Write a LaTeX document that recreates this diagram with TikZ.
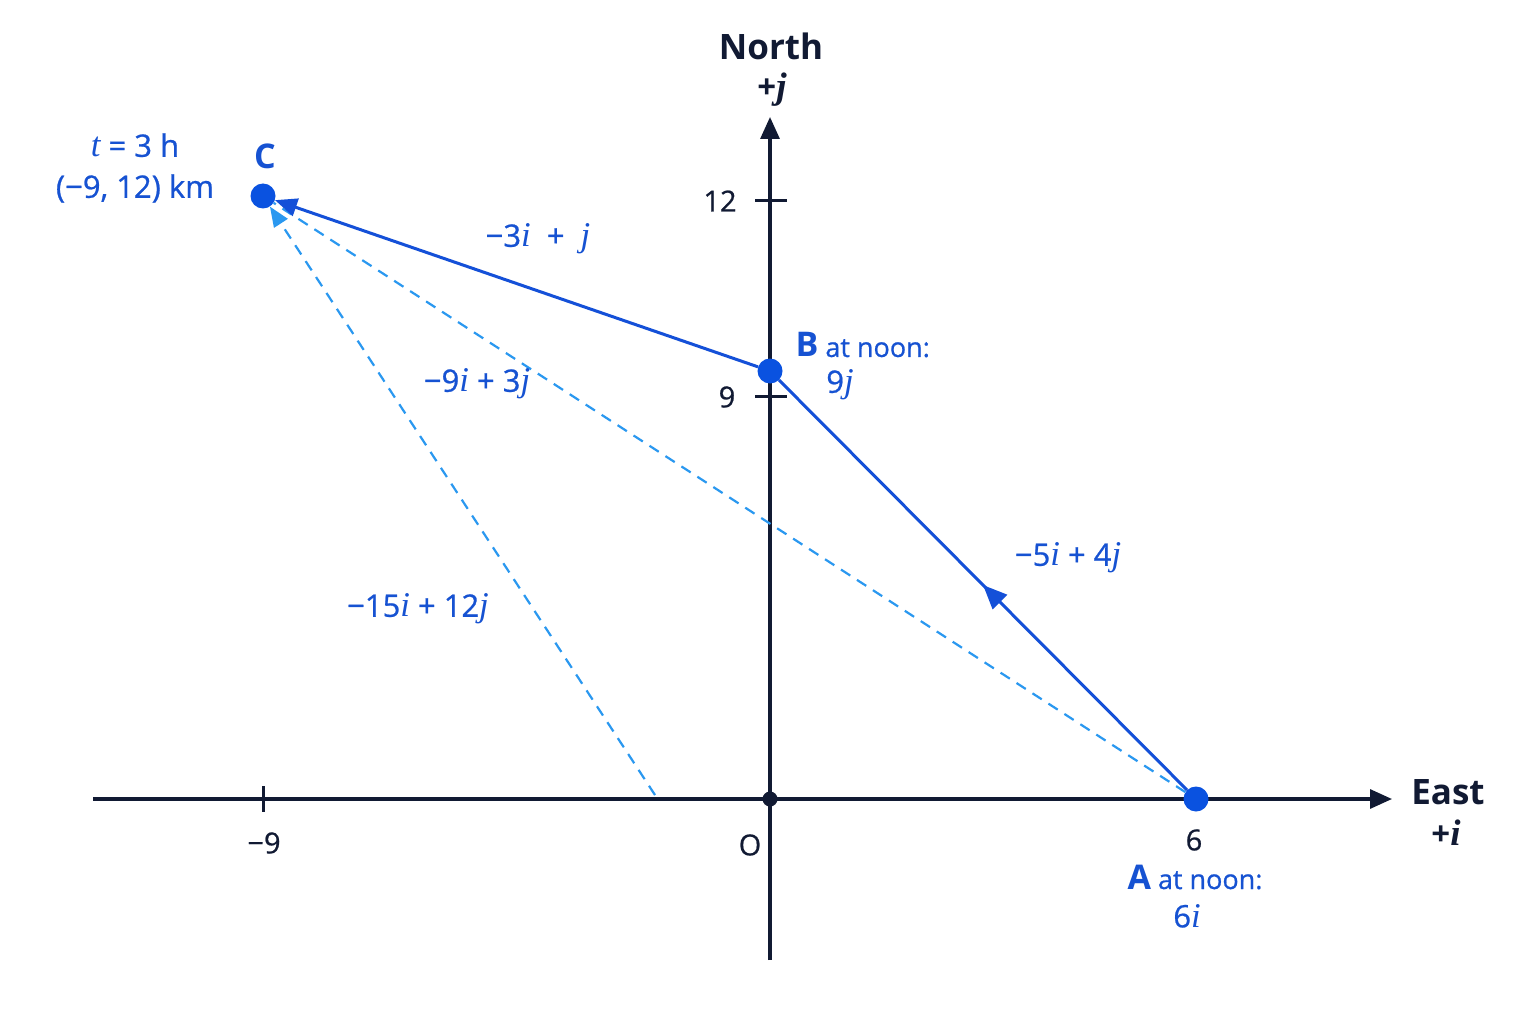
\documentclass[tikz,border=0pt]{standalone}
\usepackage{fontspec}
\setmainfont{Open Sans}
\newfontfamily\medfont{Open Sans}[FakeBold=0.7]
\newfontfamily\vecfont{Liberation Serif}
\newcommand\myi{{\vecfont\itshape\fontsize{1.12em}{1em}\selectfont i}}
\newcommand\myj{{\vecfont\itshape\fontsize{1.12em}{1em}\selectfont j}}
\newcommand\myt{{\vecfont\itshape\fontsize{1.12em}{1em}\selectfont t}}
\newcommand\myib{{\vecfont\bfseries\itshape\fontsize{1.12em}{1em}\selectfont i}}
\newcommand\myjb{{\vecfont\bfseries\itshape\fontsize{1.12em}{1em}\selectfont j}}
\usetikzlibrary{arrows.meta,decorations.markings}
\definecolor{navy}{HTML}{111A33}
\definecolor{vblue}{HTML}{1450D8}
\definecolor{dotblue}{HTML}{0A52E0}
\definecolor{dblue}{HTML}{2A98F0}
\definecolor{tblue}{HTML}{1652D2}
\begin{document}
\begin{tikzpicture}[x=1pt,y=-1pt,
  axis/.style={draw=navy,line width=3.2pt},
  tick/.style={draw=navy,line width=3pt},
  pt/.style={circle,fill=dotblue,minimum size=25pt,inner sep=0pt},
  vec/.style={draw=vblue,line width=3pt},
  dvec/.style={draw=dblue,line width=2.2pt,dash pattern=on 11pt off 8pt},
  num/.style={text=navy,font=\medfont\fontsize{29}{34}\selectfont},
  axlab/.style={text=navy,font=\fontsize{35}{40}\selectfont\bfseries},
  lab/.style={text=tblue,font=\medfont\fontsize{31}{34}\selectfont},
  ptlab/.style={text=tblue,font=\medfont\fontsize{27}{32}\selectfont,align=center},
]
\fill[white] (0,0) rectangle (1536,1024);
% axes
\coordinate (xs) at (93,799);
\coordinate (xe) at (1392,799);
\coordinate (ys) at (770,960);
\coordinate (ye) at (770,117);
\draw[axis,-{Triangle[length=22pt,width=19pt]}] (xs) -- (xe);
\draw[axis,-{Triangle[length=22pt,width=19pt]}] (ys) -- (ye);
% ticks
\coordinate (tx1) at (263,786); \coordinate (tx2) at (263,812);
\draw[tick] (tx1) -- (tx2);
\coordinate (ty1) at (755,201); \coordinate (ty2) at (787,201);
\draw[tick] (ty1) -- (ty2);
\coordinate (tz1) at (755,396); \coordinate (tz2) at (787,396);
\draw[tick] (tz1) -- (tz2);
\node[circle,fill=navy,minimum size=15pt,inner sep=0pt] (O) at (770,799) {};
% tick labels
\node[num] (lm9) at (264,843) {−9};
\node[num] (l0) at (750,845) {O};
\node[num] (l6) at (1194,840) {6};
\node[num] (l12) at (720,201) {12};
\node[num] (l9) at (727,397) {9};
\node[axlab] (north) at (771,46) {North};
\node[num,font=\fontsize{33}{38}\selectfont\bfseries] (pj) at (772,90) {+\myjb};
\node[axlab] (east) at (1448,792) {East};
\node[num,font=\fontsize{33}{38}\selectfont\bfseries] (pi) at (1446,833) {+\myib};
% points
\node[pt] (A) at (1196,799) {};
\node[pt] (B) at (770,371) {};
\node[pt] (C) at (263,196) {};
\coordinate (D) at (655,795);
% dashed vectors
\draw[dvec] (A) -- (C);
\draw[dvec,-{Triangle[length=20pt,width=16pt]}] (D) -- (C);
% solid vectors
\draw[vec,-{Triangle[length=22pt,width=18pt]}] (B) -- (C);
\draw[vec,postaction={decorate},decoration={markings,mark=at position 0.5 with {\arrow{Triangle[length=24pt,width=20pt]}}}] (A) -- (B);
% point labels
\node[text=tblue,font=\fontsize{34}{40}\selectfont\bfseries] (Cl) at (265,156) {C};
\node[ptlab,font=\medfont\fontsize{31}{41}\selectfont] (Ct) at (135,168) {\myt\ = 3 h\\(−9, 12) km};
\node[ptlab,anchor=west] (Bl) at (792,345) {{\normalfont\fontsize{34}{38}\selectfont\bfseries B} at noon:};
\node[lab] (Bv) at (840,385) {9\myj};
\node[ptlab] (Al) at (1195,877) {{\normalfont\fontsize{34}{38}\selectfont\bfseries A} at noon:};
\node[lab] (Av) at (1187,916) {6\myi};
% vector labels
\node[lab] (v1) at (538,239) {−3\myi\ \ + \ \myj};
\node[lab] (v2) at (477,384) {−9\myi\ + 3\myj};
\node[lab] (v3) at (1068,558) {−5\myi\ + 4\myj};
\node[lab] (v4) at (418,609) {−15\myi\ + 12\myj};
\end{tikzpicture}
\end{document}
